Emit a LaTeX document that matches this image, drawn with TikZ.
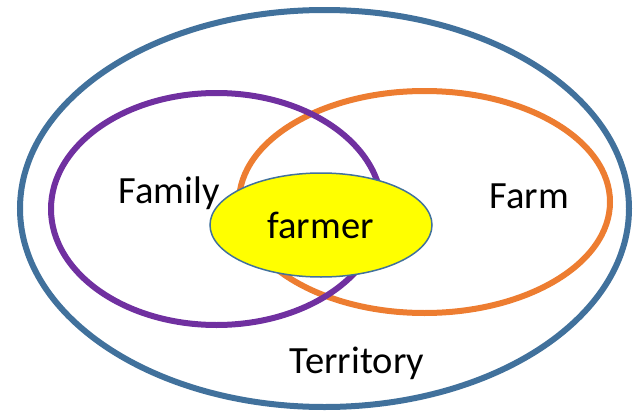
\documentclass[tikz,border=0pt]{standalone}
\usepackage{fontspec}
\setmainfont{Carlito}
\definecolor{tblue}{HTML}{41719C}
\definecolor{tpurple}{HTML}{7030A0}
\definecolor{torange}{HTML}{ED7D31}
\definecolor{tyellow}{HTML}{FFFF00}
\begin{document}
\begin{tikzpicture}[x=1pt,y=-1pt,
  lbl/.style={anchor=base,inner sep=0pt,font=\fontsize{38.5}{46}\selectfont}]
\useasboundingbox (0,0) rectangle (640,415);
\draw[tblue,line width=6pt] (324.5,208.5) ellipse [x radius=304.5,y radius=198.5];
\draw[torange,line width=6pt] (424.5,202) ellipse [x radius=185.5,y radius=111];
\draw[tpurple,line width=6pt] (216.5,209) ellipse [x radius=165.5,y radius=116];
\draw[tblue,fill=tyellow,line width=1.5pt] (321,225) ellipse [x radius=111,y radius=52];
\node[lbl] (family) at (169,203) {Family};
\node[lbl] (farm) at (529.5,208) {Farm};
\node[lbl] (farmer) at (320.5,238) {farmer};
\node[lbl] (territory) at (357,373) {Territory};
\end{tikzpicture}
\end{document}
